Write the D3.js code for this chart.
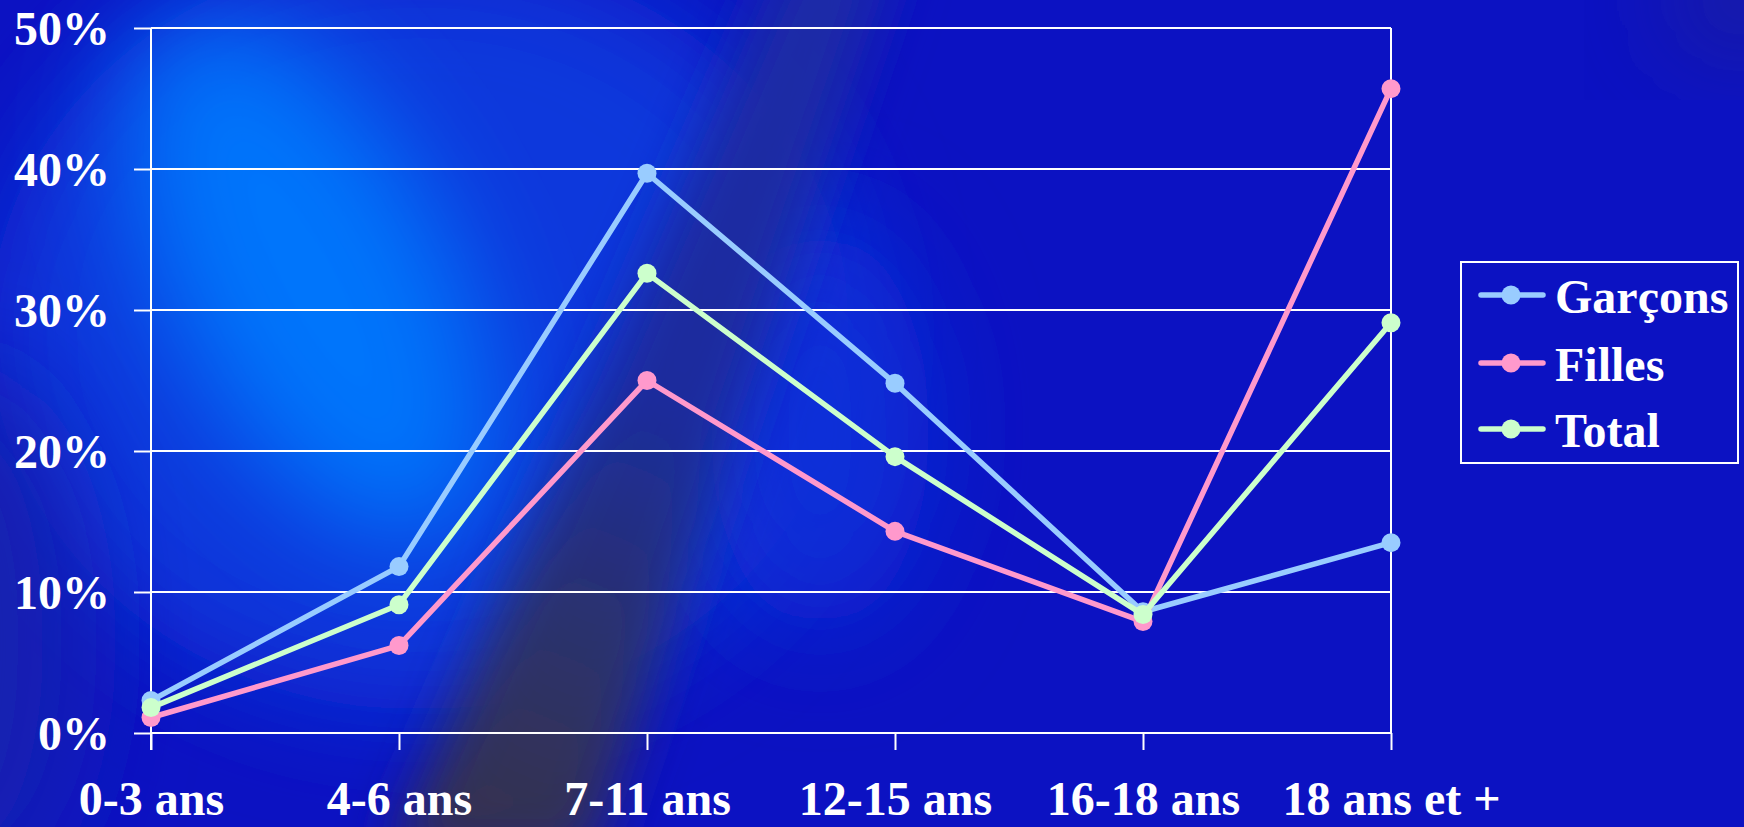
<!DOCTYPE html>
<html>
<head>
<meta charset="utf-8">
<script src="https://cdn.jsdelivr.net/npm/d3@7"></script>
<style>
  html, body { margin: 0; padding: 0; background: #0c12c2; overflow: hidden; }
  svg { display: block; }
  text { font-family: "Liberation Serif", "Times New Roman", serif; font-weight: bold; fill: #ffffff; }
</style>
</head>
<body>
<svg id="chart" width="1744" height="827"></svg>
<script>
// Age groups and share of each group (%)
const categories = ["0-3 ans", "4-6 ans", "7-11 ans", "12-15 ans", "16-18 ans", "18 ans et +"];
const garcons = [2.3, 11.8, 39.7, 24.8, 8.6, 13.5];
const filles  = [1.1, 6.2, 25.0, 14.3, 7.9, 45.7];
const total   = [1.8, 9.1, 32.6, 19.6, 8.4, 29.1];
const yTicks  = [0, 10, 20, 30, 40, 50];

const seriesNames  = ["Garçons", "Filles", "Total"];
const seriesValues = [garcons, filles, total];
const seriesColors = ["#99ccff", "#ff99cc", "#ccffcc"];

const W = 1744, H = 827;
const svg = d3.select("#chart");
const defs = svg.append("defs");

// ---- Backdrop: blue field with a light glow and a dark diagonal streak ----
defs.append("filter").attr("id", "blurBig").attr("x", "-50%").attr("y", "-50%").attr("width", "200%").attr("height", "200%")
  .append("feGaussianBlur").attr("stdDeviation", 55);
defs.append("filter").attr("id", "blurMid").attr("x", "-50%").attr("y", "-50%").attr("width", "200%").attr("height", "200%")
  .append("feGaussianBlur").attr("stdDeviation", 28);

const streakGrad = defs.append("linearGradient").attr("id", "streakGrad")
  .attr("gradientUnits", "userSpaceOnUse")
  .attr("x1", 850).attr("y1", -40).attr("x2", 480).attr("y2", 860);
streakGrad.append("stop").attr("offset", 0).attr("stop-color", "#1a2aa8");
streakGrad.append("stop").attr("offset", 0.5).attr("stop-color", "#1b2c9c");
streakGrad.append("stop").attr("offset", 0.72).attr("stop-color", "#2a3070");
streakGrad.append("stop").attr("offset", 1).attr("stop-color", "#37334a");

const bg = svg.append("g");
bg.append("rect").attr("width", W).attr("height", H).attr("fill", "#0c12c2");
// broad brighter blue on the left half
bg.append("ellipse").attr("cx", 420).attr("cy", 330).attr("rx", 430).attr("ry", 380)
  .attr("fill", "#0838dc").attr("filter", "url(#blurBig)");
// light blue glow, elongated and tilted
bg.append("ellipse").attr("cx", 310).attr("cy", 280).attr("rx", 140).attr("ry", 290)
  .attr("transform", "rotate(-28,310,280)")
  .attr("fill", "#0674fb").attr("filter", "url(#blurBig)");
// lighter patch right of the streak
bg.append("ellipse").attr("cx", 820).attr("cy", 430).attr("rx", 110).attr("ry", 200)
  .attr("fill", "#0a2ed8").attr("filter", "url(#blurBig)");
// dark diagonal streak
bg.append("path")
  .attr("d", "M790,-60 L900,-60 L590,860 L390,860 Z")
  .attr("fill", "url(#streakGrad)").attr("filter", "url(#blurMid)");
// left dim edge
bg.append("ellipse").attr("cx", -40).attr("cy", 640).attr("rx", 120).attr("ry", 260)
  .attr("fill", "#1420b0").attr("filter", "url(#blurBig)");
// dim top-right corner
bg.append("ellipse").attr("cx", 1744).attr("cy", 0).attr("rx", 80).attr("ry", 50)
  .attr("fill", "#2a2a80").attr("opacity", 0.6).attr("filter", "url(#blurBig)");

// ---- Scales ----
const x = d3.scalePoint().domain(categories).range([151, 1391]).padding(0);
const y = d3.scaleLinear().domain([0, 50]).range([733, 28]);

const plot = svg.append("g");

// horizontal gridlines
plot.append("g").selectAll("line").data(yTicks.filter(d => d > 0)).join("line")
  .attr("x1", 151).attr("x2", 1391)
  .attr("y1", d => y(d)).attr("y2", d => y(d))
  .attr("stroke", "#ffffff").attr("stroke-width", 2);

// right border of the plot area
plot.append("line").attr("x1", 1391).attr("x2", 1391).attr("y1", y(50)).attr("y2", y(0))
  .attr("stroke", "#ffffff").attr("stroke-width", 2);

// y axis
const yAxis = plot.append("g").attr("transform", "translate(151,0)")
  .call(d3.axisLeft(y).tickValues(yTicks).tickSize(17).tickPadding(24).tickFormat(d => d + "%"));
yAxis.select(".domain").attr("stroke", "#ffffff").attr("stroke-width", 2).attr("d", `M0,${y(50)}V${y(0) + 17}`);
yAxis.selectAll(".tick line").attr("stroke", "#ffffff").attr("stroke-width", 2);
yAxis.selectAll(".tick text").attr("font-size", 48).attr("fill", "#ffffff")
  .attr("font-family", "'Liberation Serif', 'Times New Roman', serif").attr("font-weight", "bold")
  .attr("dy", "0.34em");

// x axis
const xAxis = plot.append("g").attr("transform", `translate(0,${y(0)})`)
  .call(d3.axisBottom(x).tickSize(17).tickPadding(0));
xAxis.select(".domain").attr("stroke", "#ffffff").attr("stroke-width", 2).attr("d", `M151,0H1391`);
xAxis.selectAll(".tick line").attr("stroke", "#ffffff").attr("stroke-width", 2);
xAxis.selectAll(".tick text").attr("font-size", 48).attr("fill", "#ffffff")
  .attr("font-family", "'Liberation Serif', 'Times New Roman', serif").attr("font-weight", "bold")
  .attr("y", 82).attr("dy", null);

// ---- Series ----
const line = d3.line().x((d, i) => x(categories[i])).y(d => y(d));
seriesValues.forEach((vals, s) => {
  const g = plot.append("g");
  g.append("path").datum(vals).attr("d", line)
    .attr("fill", "none").attr("stroke", seriesColors[s]).attr("stroke-width", 5.5)
    .attr("stroke-linejoin", "round");
  g.selectAll("circle").data(vals).join("circle")
    .attr("cx", (d, i) => x(categories[i])).attr("cy", d => y(d)).attr("r", 9.5)
    .attr("fill", seriesColors[s]);
});

// ---- Legend ----
const legend = svg.append("g");
legend.append("rect").attr("x", 1461).attr("y", 262).attr("width", 277).attr("height", 201)
  .attr("fill", "none").attr("stroke", "#ffffff").attr("stroke-width", 2);
const rowsY = [295, 363, 429];
seriesNames.forEach((name, i) => {
  const row = legend.append("g");
  row.append("line").attr("x1", 1481).attr("x2", 1543).attr("y1", rowsY[i]).attr("y2", rowsY[i])
    .attr("stroke", seriesColors[i]).attr("stroke-width", 5.5).attr("stroke-linecap", "round");
  row.append("circle").attr("cx", 1511).attr("cy", rowsY[i]).attr("r", 9.5).attr("fill", seriesColors[i]);
  row.append("text").attr("x", 1555).attr("y", rowsY[i] + 18).attr("font-size", 48).text(name);
});
</script>
</body>
</html>
